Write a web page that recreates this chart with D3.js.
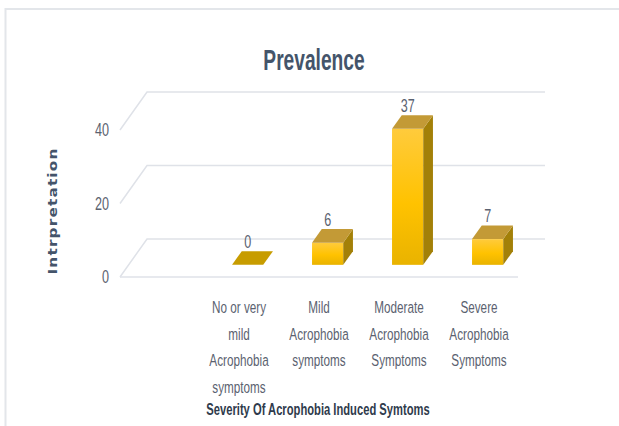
<!DOCTYPE html>
<html>
<head>
<meta charset="utf-8">
<script src="https://cdn.jsdelivr.net/npm/d3@7"></script>
<style>
  body { margin: 0; background: #fff; }
  svg { display: block; font-family: "Liberation Sans", Arial, sans-serif; }
</style>
</head>
<body>
<svg id="chart" width="619" height="426"></svg>
<script>
// data
const categories = ["No or very\nmild\nAcrophobia\nsymptoms", "Mild\nAcrophobia\nsymptoms", "Moderate\nAcrophobia\nSymptoms", "Severe\nAcrophobia\nSymptoms"];
const values = [0, 6, 37, 7];
const yTicks = [0, 20, 40];
const chartTitle = "Prevalence";
const xTitle = "Severity Of Acrophobia Induced Symtoms";
const yTitle = "Intrpretation";

const svg = d3.select("#chart");
const W = 619, H = 426;

// front edge of the floor, and how far back the back wall sits
const left = 120, right = 518, base = 277;
const depthX = 27, depthY = 38;
const d0 = 0.32, d1 = 0.68; // bar front / back depth

// first band is left empty like in the original
const x = d3.scaleBand().domain(["pad"].concat(categories)).range([left - 1, right + 1]);
const y = d3.scaleLinear().domain([0, 40]).range([base, base - 147]);
const bw = x.bandwidth(), barW = bw * 0.39;

// project a point (x, value, depth) onto the page
const p = (xv, v, d) => [xv + depthX * d, y(v) - depthY * d];
const poly = pts => pts.map(q => q.join(",")).join(" ");

// frame
svg.append("path")
  .attr("d", `M5.5,${H} V9 H${W}`)
  .attr("fill", "none").attr("stroke", "#e3e6ea").attr("stroke-width", 2);

// gradient for bar fronts
const defs = svg.append("defs");
const grad = defs.append("linearGradient").attr("id", "front").attr("x1", 0).attr("y1", 0).attr("x2", 0).attr("y2", 1);
grad.append("stop").attr("offset", "0%").attr("stop-color", "#ffcb3c");
grad.append("stop").attr("offset", "55%").attr("stop-color", "#ffc200");
grad.append("stop").attr("offset", "100%").attr("stop-color", "#e9b300");

// gridlines: left wall diagonal + back wall line
const grid = svg.append("g").attr("fill", "none").attr("stroke", "#dfe2e8").attr("stroke-width", 1.5);
yTicks.forEach(t => {
  const a = p(left, t, 0), b = p(left, t, 1), c = p(right, t, 1);
  grid.append("path").attr("d", `M${a}L${b}L${c}`);
});
grid.append("line")
  .attr("x1", left).attr("x2", right).attr("y1", y(0)).attr("y2", y(0));

// y tick labels
svg.append("g").selectAll("text").data(yTicks).join("text")
  .attr("transform", d => `translate(109,${y(d)}) scale(0.7,1)`)
  .attr("dy", "0.35em")
  .attr("text-anchor", "end")
  .attr("font-size", 18)
  .attr("fill", "#5b6270")
  .text(d => d);

// bars
const bars = svg.append("g").selectAll("g").data(values).join("g");
bars.each(function (v, i) {
  const g = d3.select(this);
  const bx = x(categories[i]) + (bw - barW) / 2;
  const top = [p(bx, v, d0), p(bx + barW, v, d0), p(bx + barW, v, d1), p(bx, v, d1)];
  if (v > 0) {
    const f = p(bx, v, d0);
    g.append("rect")
      .attr("x", f[0]).attr("y", f[1])
      .attr("width", barW).attr("height", y(0) - y(v))
      .attr("fill", "url(#front)");
    g.append("polygon")
      .attr("points", poly([p(bx + barW, 0, d0), p(bx + barW, v, d0), p(bx + barW, v, d1), p(bx + barW, 0, d1)]))
      .attr("fill", "#a38008");
    g.append("polygon").attr("points", poly(top)).attr("fill", "#c39a36");
  } else {
    g.append("polygon").attr("points", poly(top)).attr("fill", "#c79c00");
  }
  // value label
  const lx = bx + barW / 2 + depthX * d0;
  const ly = y(v) - depthY * d1 - 3;
  g.append("text")
    .attr("transform", `translate(${lx},${ly}) scale(0.7,1)`)
    .attr("text-anchor", "middle")
    .attr("font-size", 18)
    .attr("fill", "#5b6270")
    .text(v);
});

// category labels
const cat = svg.append("g").selectAll("g").data(categories).join("g")
  .attr("transform", d => `translate(${x(d) + bw / 2},313) scale(0.69,1)`);
cat.each(function (d) {
  d3.select(this).selectAll("text").data(d.split("\n")).join("text")
    .attr("y", (s, j) => j * 26.7)
    .attr("text-anchor", "middle")
    .attr("font-size", 17)
    .attr("fill", "#5b6270")
    .text(s => s);
});

// titles
svg.append("text")
  .attr("transform", "translate(314,70) scale(0.64,1)")
  .attr("text-anchor", "middle")
  .attr("font-size", 30).attr("font-weight", "bold")
  .attr("fill", "#44546a")
  .text(chartTitle);

svg.append("text")
  .attr("transform", "translate(318,415) scale(0.7,1)")
  .attr("text-anchor", "middle")
  .attr("font-size", 16).attr("font-weight", "bold")
  .attr("fill", "#2f3b4c")
  .text(xTitle);

svg.append("text")
  .attr("transform", "translate(57,211) rotate(-90)")
  .attr("text-anchor", "middle")
  .attr("font-family", "'DejaVu Sans', sans-serif")
  .attr("font-size", 13).attr("font-weight", "bold")
  .attr("letter-spacing", 1)
  .attr("textLength", 127).attr("lengthAdjust", "spacingAndGlyphs")
  .attr("fill", "#44546a")
  .text(yTitle);
</script>
</body>
</html>
